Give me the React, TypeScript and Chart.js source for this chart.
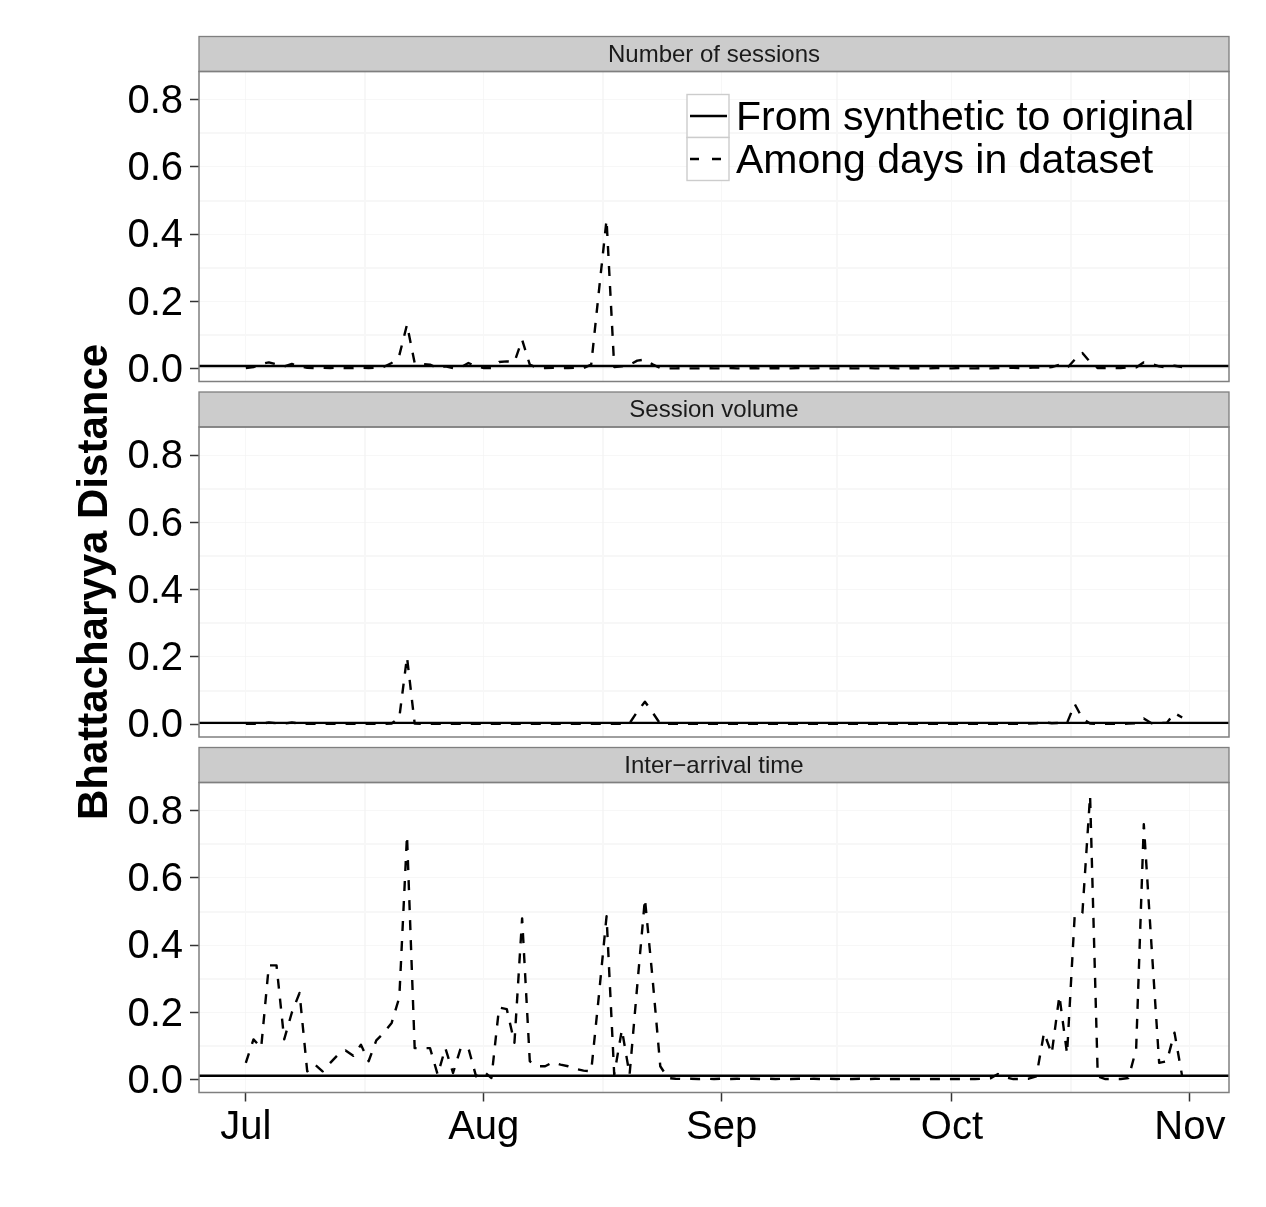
import React, { useEffect, useRef } from 'react';
import { Chart, registerables } from 'chart.js';

Chart.register(...registerables);

// ---------------- data ----------------
// x = days since Jul 1 (day 0 = Jul 1, last point = Oct 31)
const SERIES_LABELS = ['From synthetic to original', 'Among days in dataset'];
const PANEL_TITLES = ['Number of sessions', 'Session volume', 'Inter\u2212arrival time'];

const MONTH_TICK_DAYS = [0, 31, 62, 92, 123];
const MONTH_TICK_LABELS = ['Jul', 'Aug', 'Sep', 'Oct', 'Nov'];
const MONTH_MINOR_DAYS = [15.5, 46.5, 77, 107.5];
const X_LIMITS = [-6.1, 128.1];

const Y_TICKS = [0, 0.2, 0.4, 0.6, 0.8];
const Y_TICK_LABELS = ['0.0', '0.2', '0.4', '0.6', '0.8'];
const Y_MINOR = [0.1, 0.3, 0.5, 0.7];
const Y_LIMITS = [-0.038, 0.884];

// level of the solid "From synthetic to original" line, per panel
const SYNTHETIC_TO_ORIGINAL = [0.008, 0.004, 0.012];

const SESSIONS_AMONG = [
  0.002, 0.005, 0.014, 0.019, 0.013, 0.007, 0.014, 0.007, 0.003, 0.002,
  0.003, 0.002, 0.003, 0.002, 0.002, 0.003, 0.002, 0.003, 0.006, 0.017,
  0.040, 0.131, 0.017, 0.014, 0.012, 0.002, 0.007, 0.002, 0.004, 0.017,
  0.007, 0.002, 0.002, 0.020, 0.022, 0.020, 0.086, 0.012, 0.002, 0.002,
  0.003, 0.002, 0.002, 0.003, 0.002, 0.012, 0.230, 0.443, 0.005, 0.007,
  0.012, 0.024, 0.027, 0.013, 0.002, 0.001, 0.001, 0.002, 0.001, 0.001,
  0.002, 0.001, 0.001, 0.002, 0.001, 0.001, 0.002, 0.001, 0.001, 0.002,
  0.001, 0.001, 0.002, 0.001, 0.001, 0.002, 0.001, 0.001, 0.002, 0.001,
  0.001, 0.002, 0.001, 0.001, 0.002, 0.001, 0.001, 0.002, 0.001, 0.001,
  0.002, 0.001, 0.001, 0.002, 0.001, 0.001, 0.002, 0.001, 0.002, 0.002,
  0.003, 0.002, 0.003, 0.004, 0.003, 0.005, 0.012, 0.002, 0.027, 0.047,
  0.020, 0.002, 0.002, 0.002, 0.002, 0.004, 0.004, 0.019, 0.014, 0.007,
  0.004, 0.009, 0.005,
];

const VOLUME_AMONG = [
  0.001, 0.001, 0.002, 0.005, 0.003, 0.002, 0.005, 0.002, 0.001, 0.001,
  0.001, 0.001, 0.001, 0.001, 0.001, 0.001, 0.001, 0.001, 0.001, 0.002,
  0.020, 0.200, 0.002, 0.001, 0.001, 0.001, 0.001, 0.001, 0.001, 0.001,
  0.001, 0.001, 0.001, 0.001, 0.001, 0.001, 0.001, 0.001, 0.001, 0.001,
  0.001, 0.001, 0.001, 0.001, 0.001, 0.001, 0.001, 0.001, 0.001, 0.001,
  0.003, 0.037, 0.067, 0.035, 0.001, 0.001, 0.001, 0.001, 0.001, 0.001,
  0.001, 0.001, 0.001, 0.001, 0.001, 0.001, 0.001, 0.001, 0.001, 0.001,
  0.001, 0.001, 0.001, 0.001, 0.001, 0.001, 0.001, 0.001, 0.001, 0.001,
  0.001, 0.001, 0.001, 0.001, 0.001, 0.001, 0.001, 0.001, 0.001, 0.001,
  0.001, 0.001, 0.001, 0.001, 0.001, 0.001, 0.001, 0.001, 0.001, 0.001,
  0.001, 0.001, 0.002, 0.003, 0.006, 0.003, 0.004, 0.004, 0.060, 0.017,
  0.002, 0.001, 0.001, 0.001, 0.001, 0.002, 0.003, 0.017, 0.003, 0.004,
  0.004, 0.033, 0.020,
];

const INTERARRIVAL_AMONG = [
  0.050, 0.120, 0.095, 0.340, 0.340, 0.120, 0.200, 0.258, 0.025, 0.045,
  0.025, 0.050, 0.074, 0.087, 0.071, 0.104, 0.055, 0.117, 0.140, 0.169,
  0.245, 0.726, 0.094, 0.094, 0.094, 0.015, 0.094, 0.020, 0.094, 0.094,
  0.010, 0.025, 0.005, 0.215, 0.210, 0.110, 0.480, 0.055, 0.040, 0.040,
  0.052, 0.045, 0.040, 0.032, 0.027, 0.025, 0.250, 0.486, 0.015, 0.149,
  0.015, 0.280, 0.538, 0.300, 0.040, 0.005, 0.003, 0.002, 0.003, 0.002,
  0.003, 0.002, 0.003, 0.002, 0.003, 0.002, 0.003, 0.002, 0.003, 0.002,
  0.003, 0.002, 0.003, 0.002, 0.003, 0.002, 0.003, 0.002, 0.003, 0.002,
  0.003, 0.002, 0.003, 0.002, 0.002, 0.002, 0.002, 0.002, 0.002, 0.002,
  0.002, 0.002, 0.002, 0.002, 0.002, 0.002, 0.003, 0.004, 0.017, 0.007,
  0.002, 0.002, 0.003, 0.010, 0.140, 0.077, 0.250, 0.077, 0.490, 0.496,
  0.845, 0.010, 0.002, 0.002, 0.002, 0.005, 0.090, 0.760, 0.400, 0.050,
  0.055, 0.140, 0.010,
];

const AMONG_SERIES = [SESSIONS_AMONG, VOLUME_AMONG, INTERARRIVAL_AMONG];

// ---------------- layout / style ----------------
const W = 1266;
const H = 1207;
const FONT = "'Liberation Sans', Arial, Helvetica, sans-serif";
const PLOT_LEFT = 199;
const PLOT_RIGHT = 1229;
const PANEL_TOPS = [71.5, 427, 782.5];
const PANEL_H = 310;
const STRIP_H = 35;
const X_AXIS_H = 60;
const GRID_MAJOR = '#f1f1f1';
const GRID_MINOR = '#f7f7f7';
const TICK_COLOR = '#333333';
const LINE_W = 2.4;

const X_GRID = [...MONTH_TICK_DAYS, ...MONTH_MINOR_DAYS].sort((a, b) => a - b);
const Y_GRID = [...Y_TICKS, ...Y_MINOR].sort((a, b) => a - b);

const isMajorX = (v: any) => MONTH_TICK_DAYS.indexOf(Number(v)) >= 0;
const isMajorY = (v: any) => Y_TICKS.indexOf(Number(v)) >= 0;

const facetPlugin = {
  id: 'facet',
  afterDraw(chart: any, _args: any, opts: any) {
    const { ctx, chartArea: a } = chart;
    ctx.save();
    // strip
    ctx.fillStyle = '#cccccc';
    ctx.fillRect(a.left, a.top - STRIP_H, a.right - a.left, STRIP_H);
    ctx.strokeStyle = '#7f7f7f';
    ctx.lineWidth = 1.3;
    ctx.strokeRect(a.left, a.top - STRIP_H, a.right - a.left, STRIP_H);
    ctx.fillStyle = '#1a1a1a';
    ctx.font = `24px ${FONT}`;
    ctx.textAlign = 'center';
    ctx.textBaseline = 'middle';
    ctx.fillText(opts.title, (a.left + a.right) / 2, a.top - STRIP_H / 2 + 1);
    // panel border
    ctx.strokeStyle = '#7f7f7f';
    ctx.lineWidth = 1.5;
    ctx.strokeRect(a.left, a.top, a.right - a.left, a.bottom - a.top);
    ctx.restore();
  },
};

const legendPlugin = {
  id: 'facetLegend',
  afterDraw(chart: any) {
    const { ctx, chartArea: a } = chart;
    const x0 = a.left + 488;
    const y0 = a.top + 23;
    const keyW = 42;
    const rowH = 43;
    ctx.save();
    chart.data.datasets.forEach((ds: any, k: number) => {
      const y = y0 + k * rowH;
      ctx.fillStyle = '#ffffff';
      ctx.fillRect(x0, y, keyW, rowH);
      ctx.strokeStyle = '#cccccc';
      ctx.lineWidth = 1.4;
      ctx.setLineDash([]);
      ctx.strokeRect(x0, y, keyW, rowH);
      ctx.strokeStyle = ds.borderColor;
      ctx.lineWidth = ds.borderWidth;
      ctx.setLineDash(ds.borderDash && ds.borderDash.length ? [9, 13] : []);
      ctx.beginPath();
      ctx.moveTo(x0 + 3, y + rowH / 2);
      ctx.lineTo(x0 + keyW - 2, y + rowH / 2);
      ctx.stroke();
      ctx.setLineDash([]);
      ctx.fillStyle = '#000000';
      ctx.font = `41px ${FONT}`;
      ctx.textAlign = 'left';
      ctx.textBaseline = 'middle';
      ctx.fillText(ds.label, x0 + keyW + 7, y + rowH / 2 + 3);
    });
    ctx.restore();
  },
};

function buildConfig(i: number): any {
  const isBottom = i === 2;
  const axisH = isBottom ? X_AXIS_H : 0;
  const padBottom = H - (PANEL_TOPS[i] + PANEL_H) - axisH;
  const among = AMONG_SERIES[i];
  return {
    type: 'line',
    data: {
      datasets: [
        {
          label: SERIES_LABELS[0],
          data: X_LIMITS.map((x) => ({ x, y: SYNTHETIC_TO_ORIGINAL[i] })),
          borderColor: '#000000',
          borderWidth: LINE_W,
          borderDash: [],
          pointRadius: 0,
          tension: 0,
        },
        {
          label: SERIES_LABELS[1],
          data: among.map((v, d) => ({ x: d, y: v })),
          borderColor: '#000000',
          borderWidth: LINE_W,
          borderDash: [10, 10],
          borderJoinStyle: 'round',
          pointRadius: 0,
          tension: 0,
        },
      ],
    },
    options: {
      responsive: false,
      animation: false,
      events: [],
      layout: {
        autoPadding: false,
        padding: { left: 0, right: W - PLOT_RIGHT, top: PANEL_TOPS[i], bottom: padBottom },
      },
      plugins: {
        legend: { display: false },
        tooltip: { enabled: false },
        facet: { title: PANEL_TITLES[i] },
      },
      scales: {
        x: {
          type: 'linear',
          position: 'bottom',
          bounds: 'data',
          min: X_LIMITS[0],
          max: X_LIMITS[1],
          border: { display: false },
          afterBuildTicks: (s: any) => {
            s.ticks = X_GRID.map((v) => ({ value: v }));
          },
          afterFit: (s: any) => {
            s.height = axisH;
            s.paddingLeft = 0;
            s.paddingRight = 0;
          },
          grid: {
            drawTicks: isBottom,
            tickLength: 9,
            tickWidth: 1.5,
            color: (c: any) => (isMajorX(c.tick && c.tick.value) ? GRID_MAJOR : GRID_MINOR),
            lineWidth: (c: any) => (isMajorX(c.tick && c.tick.value) ? 0.6 : 2),
            tickColor: (c: any) => (isMajorX(c.tick && c.tick.value) ? TICK_COLOR : 'rgba(0,0,0,0)'),
          },
          ticks: {
            display: isBottom,
            autoSkip: false,
            maxRotation: 0,
            minRotation: 0,
            padding: 2,
            color: '#000000',
            font: { family: FONT, size: 40 },
            callback: (v: any) => {
              const k = MONTH_TICK_DAYS.indexOf(Number(v));
              return k >= 0 ? MONTH_TICK_LABELS[k] : '';
            },
          },
        },
        y: {
          type: 'linear',
          position: 'left',
          bounds: 'data',
          min: Y_LIMITS[0],
          max: Y_LIMITS[1],
          border: { display: false },
          afterBuildTicks: (s: any) => {
            s.ticks = Y_GRID.map((v) => ({ value: v }));
          },
          afterFit: (s: any) => {
            s.width = PLOT_LEFT;
            s.paddingTop = 0;
            s.paddingBottom = 0;
          },
          title: {
            display: i === 1,
            text: 'Bhattacharyya Distance',
            color: '#000000',
            font: { family: FONT, size: 42, weight: 'bold' },
            padding: { top: 70, bottom: 0 },
          },
          grid: {
            drawTicks: true,
            tickLength: 9,
            tickWidth: 1.5,
            color: (c: any) => (isMajorY(c.tick && c.tick.value) ? GRID_MAJOR : GRID_MINOR),
            lineWidth: (c: any) => (isMajorY(c.tick && c.tick.value) ? 0.6 : 2),
            tickColor: (c: any) => (isMajorY(c.tick && c.tick.value) ? TICK_COLOR : 'rgba(0,0,0,0)'),
          },
          ticks: {
            autoSkip: false,
            padding: 7,
            labelOffset: 2,
            color: '#000000',
            font: { family: FONT, size: 40 },
            callback: (v: any) => {
              const k = Y_TICKS.indexOf(Number(v));
              return k >= 0 ? Y_TICK_LABELS[k] : '';
            },
          },
        },
      },
    },
    plugins: i === 0 ? [facetPlugin, legendPlugin] : [facetPlugin],
  };
}

function PanelCanvas({ index }: { index: number }) {
  const ref = useRef<HTMLCanvasElement | null>(null);
  useEffect(() => {
    if (!ref.current) return;
    const chart = new Chart(ref.current, buildConfig(index));
    return () => chart.destroy();
  }, [index]);
  return (
    <canvas
      ref={ref}
      width={W}
      height={H}
      style={{ position: 'absolute', left: 0, top: 0, width: W, height: H }}
    />
  );
}

export default function App() {
  useEffect(() => {
    document.body.style.margin = '0';
  }, []);
  return (
    <div style={{ position: 'relative', width: W, height: H, background: '#ffffff', overflow: 'hidden' }}>
      {[0, 1, 2].map((i) => (
        <PanelCanvas key={i} index={i} />
      ))}
    </div>
  );
}
